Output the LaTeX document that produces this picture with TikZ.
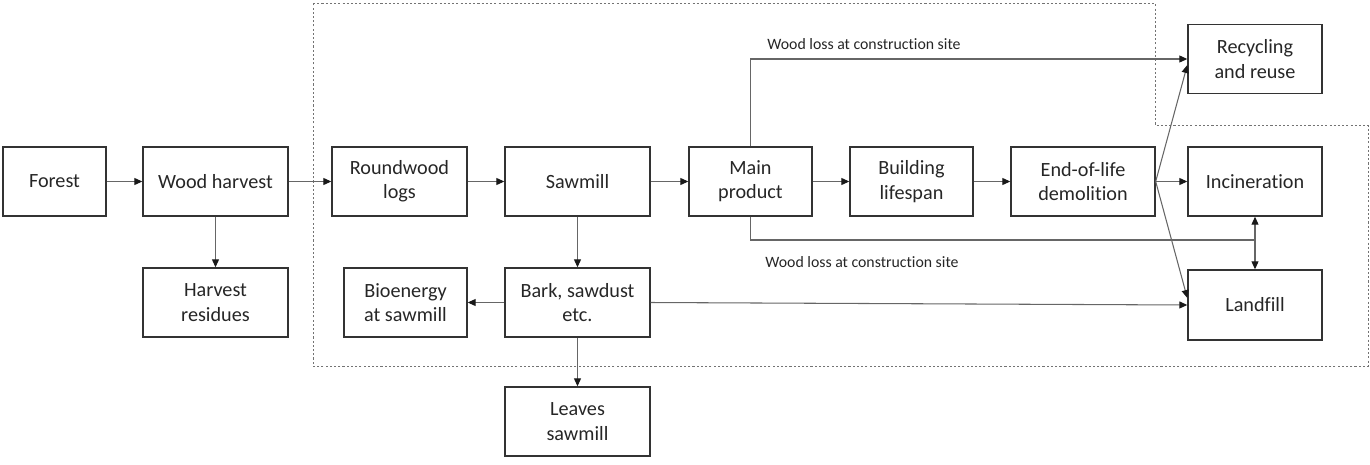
\documentclass[tikz,border=0pt]{standalone}
\usepackage{fontspec}
\setmainfont[Ligatures=NoCommon]{Carlito}
\usetikzlibrary{arrows.meta}
\begin{document}
\begin{tikzpicture}[x=0.02cm,y=-0.02cm,
 box/.style={draw=black!80, line width=0.8pt, align=center, font=\fontsize{11.5}{13.8}\selectfont, inner sep=0pt, minimum height=1.38cm, text=black!85},
 conn/.style={draw=black!60, line width=0.6pt, -{Triangle[length=1.6mm,width=1.4mm,color=black!90]}},
 plain/.style={draw=black!60, line width=0.6pt},
 zone/.style={draw=black!55, line width=0.5pt, dash pattern=on 1.2pt off 1.2pt},
 lbl/.style={font=\fontsize{9}{11}\selectfont, text=black!85, inner sep=0pt},
]
\useasboundingbox (0,0) rectangle (1370,464);
\draw[zone] (313,3) -- (1155,3) -- (1155,125) -- (1368,125) -- (1368,366) -- (313,366) -- cycle;

\node[box, minimum width=2.06cm] (forest) at (54.5,181.5) {Forest};
\node[box, minimum width=2.9cm] (wood) at (215.5,181.5) {Wood harvest};
\node[box, minimum width=2.9cm] (resid) at (215.5,302.5) {Harvest\\residues};
\node[box, minimum width=2.7cm] (round) at (399.5,181.5) {Roundwood\\logs};
\node[box, minimum width=2.9cm] (saw) at (577.5,181.5) {Sawmill};
\node[box, minimum width=2.46cm] (main) at (750.5,181.5) {Main\\product};
\node[box, minimum width=2.46cm] (build) at (911.5,181.5) {Building\\lifespan};
\node[box, minimum width=2.88cm] (eol) at (1083,181.5) {End-of-life\\demolition};
\node[box, minimum width=2.68cm] (recyc) at (1255,59) {Recycling\\and reuse};
\node[box, minimum width=2.68cm] (incin) at (1255,181.5) {Incineration};
\node[box, minimum width=2.68cm, minimum height=1.4cm] (land) at (1255,305) {Landfill};
\node[box, minimum width=2.46cm] (bio) at (405.5,302.5) {Bioenergy\\at sawmill};
\node[box, minimum width=2.9cm] (bark) at (577.5,302.5) {Bark, sawdust\\etc.};
\node[box, minimum width=2.9cm] (leaves) at (577.5,421.5) {Leaves\\sawmill};

\draw[conn] (forest) -- (wood);
\draw[conn] (wood) -- (round);
\draw[conn] (round) -- (saw);
\draw[conn] (saw) -- (main);
\draw[conn] (main) -- (build);
\draw[conn] (build) -- (eol);
\draw[conn] (eol) -- (incin);
\draw[conn] (wood) -- (resid);
\draw[conn] (saw) -- (bark);
\draw[conn] (bark) -- (bio);
\draw[conn] (bark) -- (leaves);
\draw[conn] (bark.east) -- (land.west);
\draw[conn] (main.north) |- (recyc.west);
\coordinate (j) at (1255,240);
\draw[plain] (main.south) |- (j);
\draw[conn] (j) -- (incin.south);
\draw[conn] (j) -- (land.north);
\draw[conn] (eol.east) -- ([yshift=-0.12cm]recyc.west);
\draw[conn] (eol.east) -- ([yshift=0.14cm]land.west);

\node[lbl] (l1) at (864,44) {Wood loss at construction site};
\node[lbl] (l2) at (862,262) {Wood loss at construction site};
\end{tikzpicture}
\end{document}
